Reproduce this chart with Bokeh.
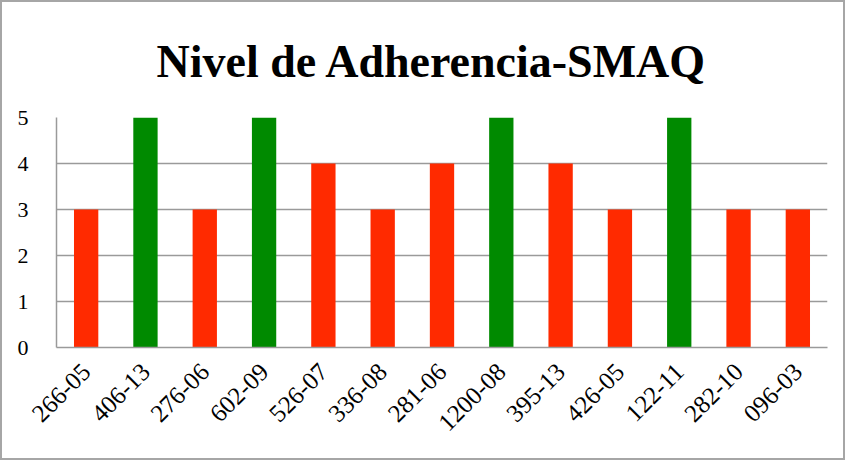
import math
from bokeh.plotting import figure
from bokeh.models import ColumnDataSource, Title
from bokeh.embed import file_html
from bokeh.resources import INLINE

categories = ["266-05", "406-13", "276-06", "602-09", "526-07", "336-08", "281-06",
              "1200-08", "395-13", "426-05", "122-11", "282-10", "096-03"]
values = [3, 5, 3, 5, 4, 3, 4, 5, 4, 3, 5, 3, 3]
y_ticks = [0, 1, 2, 3, 4, 5]
title_text = "Nivel de Adherencia-SMAQ"

RED = "#FF2A00"
GREEN = "#008A00"
colors = [GREEN if v == 5 else RED for v in values]

src = ColumnDataSource(dict(cat=categories, val=values, color=colors))

FONT = "Liberation Serif"

p = figure(x_range=categories, y_range=(0, 5), width=845, height=460,
           output_backend="svg", toolbar_location=None,
           min_border_left=54, min_border_right=20, min_border_top=115, min_border_bottom=115)
p.styles = {"border": "2px solid #a6a6a6"}

p.vbar(x="cat", top="val", width=0.41, fill_color="color", line_color=None, source=src)

t = Title(text=title_text, align="left", text_font=FONT, text_font_size="46px",
          text_font_style="bold", text_color="black", offset=100, standoff=61)
p.add_layout(t, "above")

p.outline_line_color = None
p.xgrid.grid_line_color = None
p.ygrid.grid_line_color = "#9a9a9a"
p.ygrid.grid_line_width = 1.5
p.yaxis.ticker = y_ticks

for ax in (p.xaxis, p.yaxis):
    ax.axis_line_color = "#9a9a9a"
    ax.axis_line_width = 1.5
    ax.major_tick_line_color = None
    ax.minor_tick_line_color = None
    ax.major_label_text_font = FONT
    ax.major_label_text_color = "black"

p.yaxis.major_label_text_font_size = "22px"
p.xaxis.major_label_text_font_size = "25px"
p.yaxis.major_label_standoff = 22
p.xaxis.major_label_standoff = 14
p.xaxis.major_label_orientation = math.pi / 4
p.x_range.range_padding = 0
p.background_fill_color = "white"
p.border_fill_color = "white"

open("out.html", "w").write(file_html(p, INLINE))
